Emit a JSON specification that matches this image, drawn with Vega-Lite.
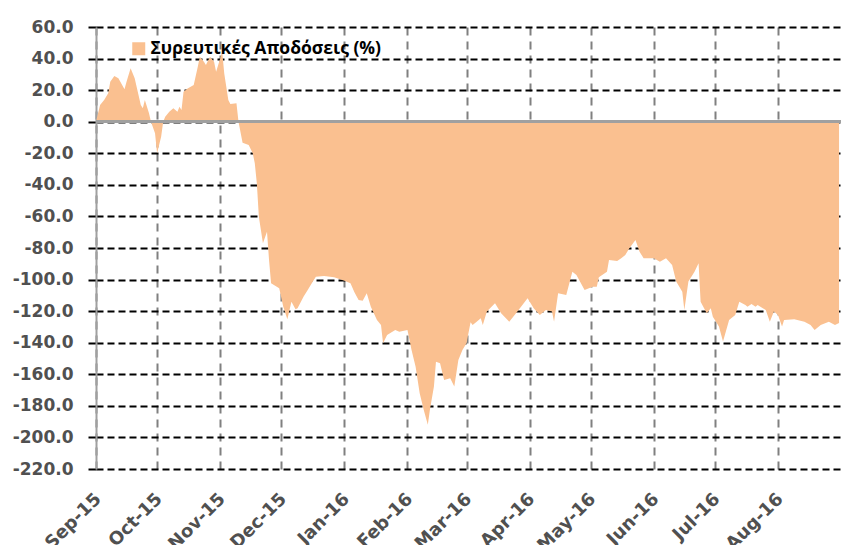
{
  "$schema": "https://vega.github.io/schema/vega-lite/v6.json",
  "width": 745,
  "height": 442,
  "autosize": {"type": "none"},
  "padding": {"left": 96, "top": 27, "right": 0, "bottom": 76},
  "background": "white",
  "config": {"view": {"stroke": null}},
  "data": {"values": [
    {"date": "2015-09-01", "ret": 0},
    {"date": "2015-09-03", "ret": 10.6},
    {"date": "2015-09-05", "ret": 13.7},
    {"date": "2015-09-07", "ret": 18},
    {"date": "2015-09-08", "ret": 25.3},
    {"date": "2015-09-10", "ret": 29},
    {"date": "2015-09-12", "ret": 27.6},
    {"date": "2015-09-15", "ret": 20.6},
    {"date": "2015-09-16", "ret": 25.3},
    {"date": "2015-09-18", "ret": 33.8},
    {"date": "2015-09-20", "ret": 27.6},
    {"date": "2015-09-23", "ret": 10.6},
    {"date": "2015-09-24", "ret": 8.6},
    {"date": "2015-09-25", "ret": 13.7},
    {"date": "2015-09-27", "ret": 5.5},
    {"date": "2015-09-28", "ret": 0},
    {"date": "2015-09-30", "ret": -7.3},
    {"date": "2015-10-01", "ret": -20},
    {"date": "2015-10-03", "ret": -9.5},
    {"date": "2015-10-04", "ret": 0},
    {"date": "2015-10-05", "ret": 3.2},
    {"date": "2015-10-07", "ret": 6.3},
    {"date": "2015-10-09", "ret": 8.5},
    {"date": "2015-10-11", "ret": 6.3},
    {"date": "2015-10-12", "ret": 9.5},
    {"date": "2015-10-13", "ret": 7.4},
    {"date": "2015-10-14", "ret": 19},
    {"date": "2015-10-16", "ret": 21.1},
    {"date": "2015-10-19", "ret": 23.2},
    {"date": "2015-10-21", "ret": 34.8},
    {"date": "2015-10-22", "ret": 41.2},
    {"date": "2015-10-24", "ret": 38},
    {"date": "2015-10-25", "ret": 35.9},
    {"date": "2015-10-27", "ret": 41.2},
    {"date": "2015-10-29", "ret": 38},
    {"date": "2015-10-30", "ret": 31.7},
    {"date": "2015-11-02", "ret": 44.3},
    {"date": "2015-11-03", "ret": 30.6},
    {"date": "2015-11-05", "ret": 13.7},
    {"date": "2015-11-06", "ret": 11.2},
    {"date": "2015-11-09", "ret": 11.7},
    {"date": "2015-11-10", "ret": 0},
    {"date": "2015-11-12", "ret": -13.3},
    {"date": "2015-11-15", "ret": -14.8},
    {"date": "2015-11-17", "ret": -20},
    {"date": "2015-11-18", "ret": -26.3},
    {"date": "2015-11-19", "ret": -39},
    {"date": "2015-11-20", "ret": -60.2},
    {"date": "2015-11-22", "ret": -77},
    {"date": "2015-11-24", "ret": -69.7},
    {"date": "2015-11-25", "ret": -87.6},
    {"date": "2015-11-26", "ret": -102.3},
    {"date": "2015-11-30", "ret": -105.5},
    {"date": "2015-12-02", "ret": -117.2},
    {"date": "2015-12-04", "ret": -125.2},
    {"date": "2015-12-06", "ret": -114},
    {"date": "2015-12-08", "ret": -118.8},
    {"date": "2015-12-09", "ret": -118.2},
    {"date": "2015-12-12", "ret": -110.8},
    {"date": "2015-12-14", "ret": -106.6},
    {"date": "2015-12-16", "ret": -102.3},
    {"date": "2015-12-18", "ret": -98.2},
    {"date": "2015-12-22", "ret": -97.7},
    {"date": "2015-12-27", "ret": -98.6},
    {"date": "2016-01-01", "ret": -100.7},
    {"date": "2016-01-04", "ret": -102.3},
    {"date": "2016-01-06", "ret": -108.2},
    {"date": "2016-01-08", "ret": -112.9},
    {"date": "2016-01-10", "ret": -113.4},
    {"date": "2016-01-12", "ret": -108.7},
    {"date": "2016-01-14", "ret": -117.2},
    {"date": "2016-01-17", "ret": -125.6},
    {"date": "2016-01-19", "ret": -128.8},
    {"date": "2016-01-20", "ret": -140.3},
    {"date": "2016-01-22", "ret": -135.1},
    {"date": "2016-01-26", "ret": -131.9},
    {"date": "2016-01-28", "ret": -133},
    {"date": "2016-02-01", "ret": -131.9},
    {"date": "2016-02-03", "ret": -144.6},
    {"date": "2016-02-05", "ret": -155.2},
    {"date": "2016-02-07", "ret": -172},
    {"date": "2016-02-09", "ret": -182.6},
    {"date": "2016-02-11", "ret": -192},
    {"date": "2016-02-12", "ret": -182.6},
    {"date": "2016-02-14", "ret": -167.8},
    {"date": "2016-02-15", "ret": -152},
    {"date": "2016-02-17", "ret": -153},
    {"date": "2016-02-19", "ret": -163.6},
    {"date": "2016-02-22", "ret": -162.5},
    {"date": "2016-02-24", "ret": -167.8},
    {"date": "2016-02-26", "ret": -150.9},
    {"date": "2016-02-28", "ret": -144.6},
    {"date": "2016-03-01", "ret": -140.3},
    {"date": "2016-03-03", "ret": -127},
    {"date": "2016-03-04", "ret": -128.8},
    {"date": "2016-03-06", "ret": -126.7},
    {"date": "2016-03-08", "ret": -124.5},
    {"date": "2016-03-09", "ret": -128.8},
    {"date": "2016-03-11", "ret": -120.3},
    {"date": "2016-03-15", "ret": -115},
    {"date": "2016-03-18", "ret": -121.3},
    {"date": "2016-03-22", "ret": -126.7},
    {"date": "2016-03-26", "ret": -120.3},
    {"date": "2016-03-31", "ret": -111.8},
    {"date": "2016-04-03", "ret": -118.2},
    {"date": "2016-04-06", "ret": -122.4},
    {"date": "2016-04-09", "ret": -119.3},
    {"date": "2016-04-12", "ret": -120.3},
    {"date": "2016-04-13", "ret": -126.7},
    {"date": "2016-04-15", "ret": -108.7},
    {"date": "2016-04-19", "ret": -109.7},
    {"date": "2016-04-22", "ret": -95},
    {"date": "2016-04-24", "ret": -97.1},
    {"date": "2016-04-28", "ret": -106.6},
    {"date": "2016-05-02", "ret": -104.5},
    {"date": "2016-05-04", "ret": -104.5},
    {"date": "2016-05-05", "ret": -98.5},
    {"date": "2016-05-09", "ret": -95},
    {"date": "2016-05-10", "ret": -87.6},
    {"date": "2016-05-14", "ret": -88.2},
    {"date": "2016-05-16", "ret": -86.5},
    {"date": "2016-05-18", "ret": -84.4},
    {"date": "2016-05-20", "ret": -80.2},
    {"date": "2016-05-23", "ret": -74.9},
    {"date": "2016-05-25", "ret": -82.3},
    {"date": "2016-05-27", "ret": -86.5},
    {"date": "2016-06-01", "ret": -86.5},
    {"date": "2016-06-04", "ret": -88.7},
    {"date": "2016-06-07", "ret": -86.5},
    {"date": "2016-06-10", "ret": -90.8},
    {"date": "2016-06-12", "ret": -101.3},
    {"date": "2016-06-15", "ret": -107.7},
    {"date": "2016-06-16", "ret": -119.3},
    {"date": "2016-06-18", "ret": -101.3},
    {"date": "2016-06-21", "ret": -95},
    {"date": "2016-06-23", "ret": -89.7},
    {"date": "2016-06-24", "ret": -114},
    {"date": "2016-06-27", "ret": -121.3},
    {"date": "2016-06-29", "ret": -118.2},
    {"date": "2016-06-30", "ret": -123.5},
    {"date": "2016-07-03", "ret": -129.8},
    {"date": "2016-07-05", "ret": -139.3},
    {"date": "2016-07-08", "ret": -125.6},
    {"date": "2016-07-11", "ret": -122.4},
    {"date": "2016-07-13", "ret": -114},
    {"date": "2016-07-16", "ret": -116.1},
    {"date": "2016-07-17", "ret": -117.2},
    {"date": "2016-07-19", "ret": -115.5},
    {"date": "2016-07-21", "ret": -117.2},
    {"date": "2016-07-22", "ret": -116.1},
    {"date": "2016-07-26", "ret": -119.3},
    {"date": "2016-07-28", "ret": -126.7},
    {"date": "2016-07-30", "ret": -120.3},
    {"date": "2016-08-01", "ret": -122.4},
    {"date": "2016-08-03", "ret": -129.8},
    {"date": "2016-08-04", "ret": -125.6},
    {"date": "2016-08-09", "ret": -125.2},
    {"date": "2016-08-14", "ret": -126.7},
    {"date": "2016-08-17", "ret": -128.8},
    {"date": "2016-08-19", "ret": -132},
    {"date": "2016-08-22", "ret": -128.8},
    {"date": "2016-08-26", "ret": -126.7},
    {"date": "2016-08-29", "ret": -128.8},
    {"date": "2016-08-31", "ret": -127.5}
  ]},
  "layer": [
    {
      "mark": {"type": "area", "interpolate": "linear", "opacity": 1},
      "encoding": {
        "x": {
          "field": "date",
          "type": "temporal",
          "scale": {
            "type": "utc",
            "domain": [
              {"year": 2015, "month": 9, "date": 1, "utc": true},
              {"year": 2016, "month": 8, "date": 31, "hours": 23, "utc": true}
            ]
          },
          "axis": {
            "orient": "bottom",
            "title": null,
            "labelExpr": "utcFormat(datum.value, '%b-%y')",
            "tickCount": {"interval": "month", "step": 1},
            "labelAngle": -45,
            "labelAlign": "right",
            "labelBaseline": "middle",
            "labelPadding": 27,
            "labelOffset": 2,
            "labelFont": "DejaVu Sans",
            "labelFontWeight": "bold",
            "labelFontSize": 18,
            "labelColor": "#505050",
            "labelFlush": false,
            "labelOverlap": false,
            "labelBound": false,
            "domain": false,
            "ticks": false,
            "grid": true,
            "gridColor": "#808080",
            "gridDash": [8, 6],
            "gridWidth": 2
          }
        },
        "y": {
          "field": "ret",
          "type": "quantitative",
          "scale": {"domain": [-220, 60], "nice": false, "zero": false},
          "axis": {
            "title": null,
            "tickCount": 15,
            "labelExpr": "replace(format(datum.value, '.1f'), '−', '-')",
            "labelFont": "DejaVu Sans",
            "labelFontWeight": "bold",
            "labelFontSize": 17,
            "labelColor": "#505050",
            "labelPadding": 15,
            "labelOverlap": false,
            "ticks": true,
            "tickColor": "black",
            "tickSize": 8,
            "tickWidth": 2,
            "domain": true,
            "domainColor": "#A0A0A0",
            "domainWidth": 2,
            "grid": true,
            "gridColor": "black",
            "gridDash": [7, 4],
            "gridWidth": 2
          }
        },
        "color": {
          "datum": "Συρευτικές Αποδόσεις (%)",
          "type": "nominal",
          "scale": {"range": ["#FAC090"]},
          "legend": {
            "orient": "none",
            "legendX": 34,
            "legendY": 13,
            "title": null,
            "padding": 0,
            "symbolType": "square",
            "symbolSize": 169,
            "symbolStrokeWidth": 0,
            "symbolOpacity": 1,
            "labelFont": "Open Sans",
            "labelFontWeight": "bold",
            "labelFontSize": 17.5,
            "labelColor": "black",
            "labelOffset": 3,
            "labelLimit": 500
          }
        }
      }
    },
    {
      "mark": {"type": "rule", "color": "#A0A0A0", "strokeWidth": 2},
      "encoding": {"y": {"datum": 0}}
    }
  ]
}
